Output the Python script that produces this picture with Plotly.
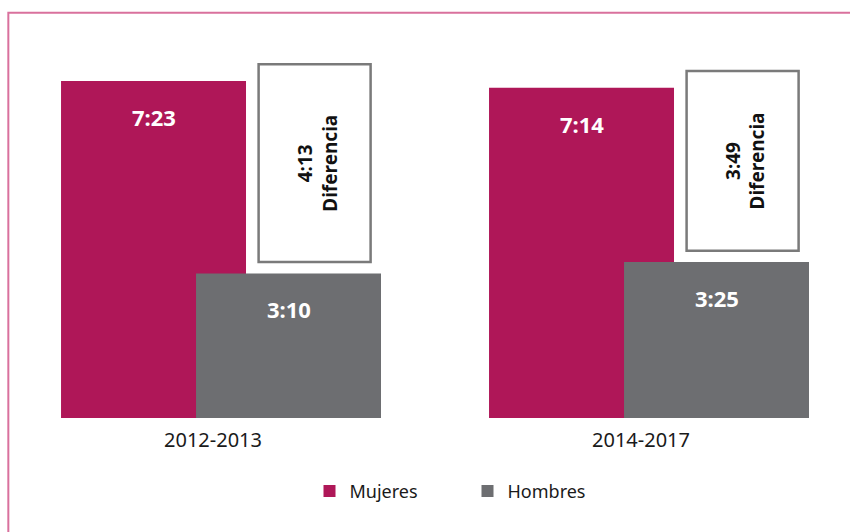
import plotly.graph_objects as go

# ---- data ----
periods = ["2012-2013", "2014-2017"]
mujeres = ["7:23", "7:14"]
hombres = ["3:10", "3:25"]
diferencia = ["4:13", "3:49"]
series_names = ["Mujeres", "Hombres"]


def to_min(s):
    h, m = s.split(":")
    return int(h) * 60 + int(m)


muj_min = [to_min(v) for v in mujeres]
hom_min = [to_min(v) for v in hombres]

# ---- style ----
C_MUJ = "#AF1758"
C_HOM = "#6D6E71"
C_BOX_LINE = "#7A7A7A"
C_FRAME = "#D9719D"
FONT = "Noto Sans"

xs = list(range(len(periods)))
OFF_M, W_M = -0.3551, 0.4322
OFF_H, W_H = -0.0397, 0.4322
OFF_B, W_B = 0.1065, 0.2617
PAD_LOW, PAD_HIGH = 15, 22

box_base = [h + PAD_LOW for h in hom_min]
box_len = [m + PAD_HIGH - b for m, b in zip(muj_min, box_base)]

fig = go.Figure()
fig.add_trace(go.Bar(x=xs, y=muj_min, name=series_names[0], marker_color=C_MUJ,
                     offset=OFF_M, width=W_M, marker_line_width=0, hoverinfo="skip"))
fig.add_trace(go.Bar(x=xs, y=hom_min, name=series_names[1], marker_color=C_HOM,
                     offset=OFF_H, width=W_H, marker_line_width=0, hoverinfo="skip"))
fig.add_trace(go.Bar(x=xs, y=box_len, base=box_base, showlegend=False,
                     marker=dict(color="white", line=dict(color=C_BOX_LINE, width=2.5)),
                     offset=OFF_B, width=W_B, hoverinfo="skip"))

annotations = []
for i in xs:
    annotations.append(dict(x=i + OFF_M + W_M / 2, y=muj_min[i], yshift=-36,
                            text="<b>%s</b>" % mujeres[i], showarrow=False,
                            font=dict(family=FONT, size=22, color="white"),
                            xanchor="center", yanchor="middle"))
    annotations.append(dict(x=i + OFF_H + W_H / 2, y=hom_min[i], yshift=-36,
                            text="<b>%s</b>" % hombres[i], showarrow=False,
                            font=dict(family=FONT, size=22, color="white"),
                            xanchor="center", yanchor="middle"))
    annotations.append(dict(x=i + OFF_B + W_B / 2, y=box_base[i] + box_len[i] / 2,
                            xshift=3,
                            text="<b>%s</b><br><b>Diferencia</b>" % diferencia[i],
                            textangle=-90, showarrow=False,
                            font=dict(family=FONT, size=19, color="#111111"),
                            xanchor="center", yanchor="middle"))

fig.update_layout(
    width=850, height=532,
    margin=dict(l=0, r=0, t=20, b=114),
    paper_bgcolor="white", plot_bgcolor="white",
    barmode="overlay",
    showlegend=True,
    legend=dict(orientation="h", x=0.55, xanchor="center", y=-0.184, yanchor="middle",
                font=dict(family=FONT, size=18, color="#1a1a1a"),
                entrywidth=113, traceorder="normal"),
    xaxis=dict(range=[-0.4977, 1.4883], tickvals=xs, ticktext=periods,
               showgrid=False, zeroline=False, showline=False, ticks="",
               ticklabelstandoff=8,
               tickfont=dict(family=FONT, size=20, color="#1a1a1a")),
    yaxis=dict(range=[0, 523.2], visible=False, showgrid=False, zeroline=False),
    annotations=annotations,
    shapes=[dict(type="path", xref="paper", yref="paper",
                 path="M 0.0098,-0.35 L 0.0098,1.0183 L 1.02,1.0183",
                 line=dict(color=C_FRAME, width=2))],
)

fig.write_html("out.html", config={"displayModeBar": False},
               post_script="document.body.style.margin='0';")
